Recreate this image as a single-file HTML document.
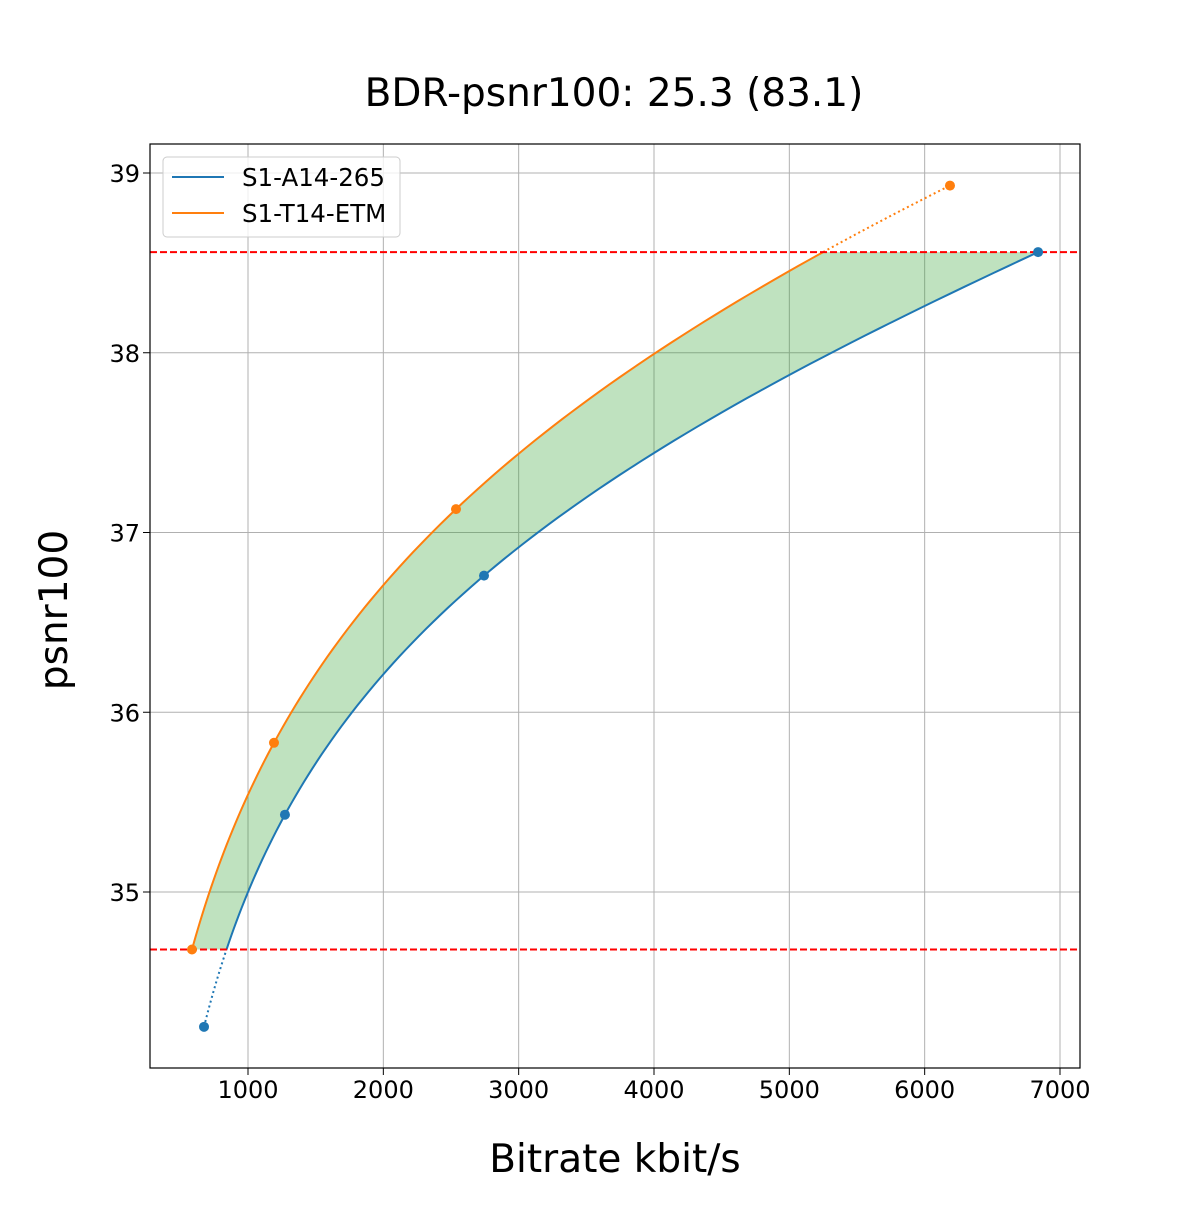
<!DOCTYPE html>
<html><head><meta charset="utf-8"><style>
body{margin:0;background:#fff}
svg text{font-family:"DejaVu Sans","Liberation Sans",sans-serif}
</style></head><body>
<svg id="s" width="1200" height="1200" xmlns="http://www.w3.org/2000/svg">
<rect width="1200" height="1200" fill="#fff"/>
<g id="grid" stroke="#b0b0b0" stroke-width="1"></g>
<g id="plot"></g>
<rect x="150" y="144" width="930" height="924" fill="none" stroke="#000" stroke-width="1.2"/>
<g id="ticks" font-size="24" fill="#000"></g>
<text x="614" y="106" font-size="39" text-anchor="middle">BDR-psnr100: 25.3 (83.1)</text>
<text x="615" y="1172" font-size="39" text-anchor="middle">Bitrate kbit/s</text>
<text transform="translate(67,610) rotate(-90)" font-size="39" text-anchor="middle">psnr100</text>
<rect x="163" y="157" width="237" height="80" rx="4" fill="#fff" fill-opacity="0.8" stroke="#ccc"/>
<line x1="172" y1="177" x2="224" y2="177" stroke="#1f77b4" stroke-width="2"/>
<line x1="172" y1="213" x2="224" y2="213" stroke="#ff7f0e" stroke-width="2"/>
<text x="242" y="186" font-size="24.5">S1-A14-265</text>
<text x="242" y="222" font-size="24.5">S1-T14-ETM</text>
</svg>
<script>
const X=v=>248+(v-1000)*0.135333, Y=v=>892-(v-35)*179.75;
const ns="http://www.w3.org/2000/svg";
function el(p,t,a,txt){const e=document.createElementNS(ns,t);for(const k in a)e.setAttribute(k,a[k]);if(txt!==undefined)e.textContent=txt;document.getElementById(p).appendChild(e);return e;}
for(let v=1000;v<=7000;v+=1000){const x=X(v);el('grid','line',{x1:x,y1:144,x2:x,y2:1068});el('ticks','line',{x1:x,y1:1068,x2:x,y2:1075,stroke:'#000'});el('ticks','text',{x:x,y:1098,'text-anchor':'middle'},v);}
for(let v=35;v<=39;v++){const y=Y(v);el('grid','line',{x1:150,y1:y,x2:1080,y2:y});el('ticks','line',{x1:143,y1:y,x2:150,y2:y,stroke:'#000'});el('ticks','text',{x:140,y:y+9,'text-anchor':'end'},v);}
const B={r:[675,1273,2744,6838],p:[34.25,35.43,36.76,38.56]};
const O={r:[586,1192,2537,6187],p:[34.68,35.83,37.13,38.93]};
function f(d,p){let s=0;for(let i=0;i<4;i++){let t=Math.log(d.r[i]);for(let j=0;j<4;j++)if(j!=i)t*=(p-d.p[j])/(d.p[i]-d.p[j]);s+=t;}return Math.exp(s);}
function pts(d,a,b){const r=[];for(let k=0;k<=100;k++){const p=a+(b-a)*k/100;r.push([X(f(d,p)),Y(p)]);}return r;}
const lo=34.68,hi=38.56;
const bs=pts(B,lo,hi),os=pts(O,lo,hi);
const poly=os.concat(bs.slice().reverse()).map(q=>q.join(',')).join(' ');
el('plot','polygon',{points:poly,fill:'#2ca02c','fill-opacity':0.3,stroke:'none'});
const pl=(a,c,dash)=>el('plot','polyline',{points:a.map(q=>q.join(',')).join(' '),fill:'none',stroke:c,'stroke-width':2,'stroke-dasharray':dash||'none'});
pl(bs,'#1f77b4');pl(os,'#ff7f0e');
pl(pts(B,34.25,lo),'#1f77b4','2,3');pl(pts(O,hi,38.93),'#ff7f0e','2,3');
[Y(lo),Y(hi)].forEach(y=>el('plot','line',{x1:150,y1:y,x2:1080,y2:y,stroke:'#ff0000','stroke-width':2,'stroke-dasharray':'7,3'}));
[[B,'#1f77b4'],[O,'#ff7f0e']].forEach(([d,c])=>{for(let i=0;i<4;i++)el('plot','circle',{cx:X(d.r[i]),cy:Y(d.p[i]),r:5,fill:c});});
</script>
</body></html>
